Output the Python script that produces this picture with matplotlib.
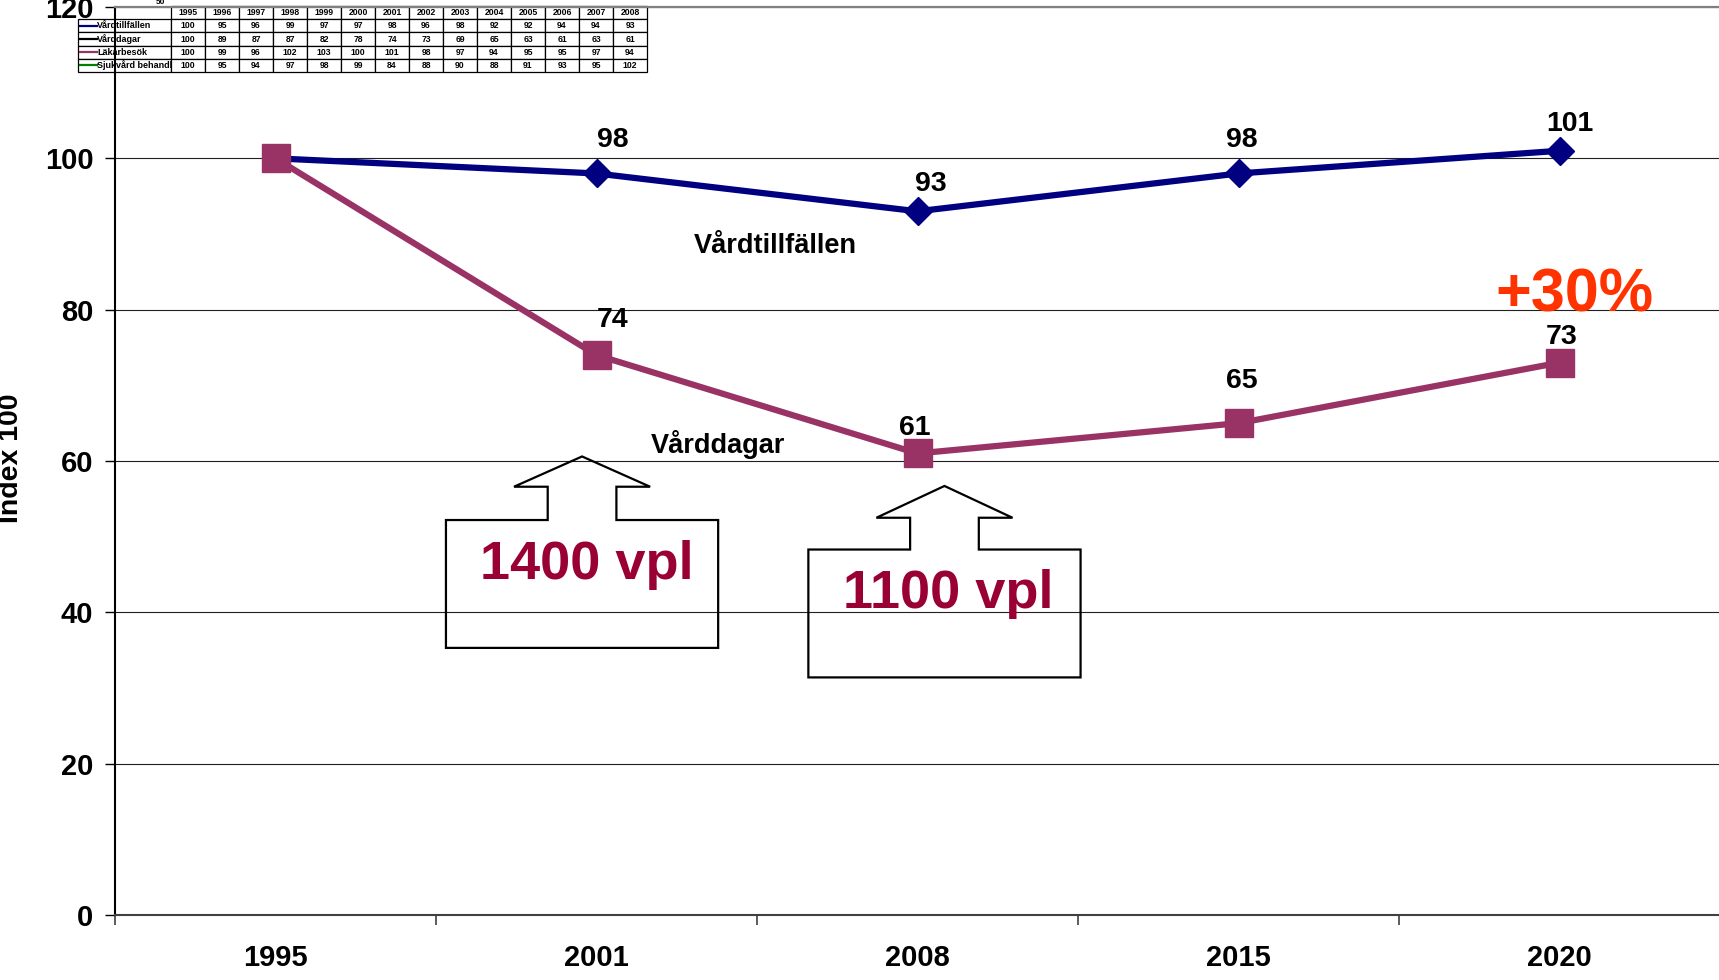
import matplotlib
matplotlib.use('Agg')
import matplotlib.pyplot as plt
from matplotlib.patches import Polygon

plt.rcParams['font.family'] = ['Liberation Sans', 'DejaVu Sans']
plt.rcParams['font.weight'] = 'bold'

# main chart data
years = ['1995', '2001', '2008', '2015', '2020']
vardtillfallen = [100, 98, 93, 98, 101]
varddagar = [100, 74, 61, 65, 73]

# pasted data table (top left)
table_years = ['1995', '1996', '1997', '1998', '1999', '2000', '2001',
               '2002', '2003', '2004', '2005', '2006', '2007', '2008']
table_names = ['Vårdtillfällen', 'Vårddagar', 'Läkarbesök', 'Sjukvård behandl']
t_vardtillfallen = [100, 95, 96, 99, 97, 97, 98, 96, 98, 92, 92, 94, 94, 93]
t_varddagar = [100, 89, 87, 87, 82, 78, 74, 73, 69, 65, 63, 61, 63, 61]
t_lakarbesok = [100, 99, 96, 102, 103, 100, 101, 98, 97, 94, 95, 95, 97, 94]
t_sjukvard = [100, 95, 94, 97, 98, 99, 84, 88, 90, 88, 91, 93, 95, 102]
table_colors = ['#000080', '#000000', '#993366', '#008000']

# label offsets in pixels (layout only)
off_vt = [None, (16, 33), (13, 27), (3, 33), (10, 27)]
off_vd = [None, (16, 35), (-3, 25), (3, 42), (2, 26)]

W, H = 1719, 980
fig = plt.figure(figsize=(W / 100, H / 100), dpi=100, facecolor='white')
ax = fig.add_axes([115 / W, 1 - 915 / H, 1605 / W, 908 / H])
ax.set_zorder(1)
ax.patch.set_alpha(0)

x = list(range(len(years)))
ax.plot(x, vardtillfallen, color='#000080', lw=4.5, marker='D', ms=14, zorder=4)
ax.plot(x, varddagar, color='#993366', lw=4.5, marker='s', ms=20, zorder=5)

for i, v in enumerate(vardtillfallen):
    if off_vt[i] is not None:
        ax.annotate(str(v), (i, v), xytext=off_vt[i], textcoords='offset pixels',
                    ha='center', va='center', fontsize=20.5, zorder=6)
for i, v in enumerate(varddagar):
    if off_vd[i] is not None:
        ax.annotate(str(v), (i, v), xytext=off_vd[i], textcoords='offset pixels',
                    ha='center', va='center', fontsize=20.5, zorder=6)

ax.text(1.556, 88.4, 'Vårdtillfällen', ha='center', va='center', fontsize=19.5)
ax.text(1.378, 62.2, 'Vårddagar', ha='center', va='center', fontsize=19.5)
ax.text(4.048, 81.8, '+30%', ha='center', va='center', fontsize=44, color='#FF3300', zorder=6)


def callout(cx, y0, y1, yh, yt, hw_box=0.424, hw_head=0.212, hw_shaft=0.107):
    verts = [(cx - hw_box, y0), (cx + hw_box, y0), (cx + hw_box, y1),
             (cx + hw_shaft, y1), (cx + hw_shaft, yh), (cx + hw_head, yh),
             (cx, yt), (cx - hw_head, yh), (cx - hw_shaft, yh),
             (cx - hw_shaft, y1), (cx - hw_box, y1)]
    ax.add_patch(Polygon(verts, closed=True, facecolor='none', edgecolor='black',
                         lw=1.6, zorder=3))


callout(0.955, 35.3, 52.2, 56.6, 60.6)
callout(2.084, 31.4, 48.3, 52.5, 56.7)
ax.text(0.969, 46.3, '1400 vpl', ha='center', va='center', fontsize=39, color='#990033')
ax.text(2.095, 42.4, '1100 vpl', ha='center', va='center', fontsize=39, color='#990033')

ax.set_xlim(-0.5, len(years) - 0.5)
ax.set_ylim(0, 120)
ax.set_yticks(range(0, 121, 20))
ax.set_xticks([i - 0.5 for i in range(len(years) + 1)])
ax.set_xticklabels([])
ax.set_xticks(x, minor=True)
ax.set_xticklabels(years, minor=True)
ax.tick_params(axis='x', which='major', direction='out', length=7.5, width=1.2, color='#404040')
ax.tick_params(axis='x', which='minor', length=0, pad=21, labelsize=21)
ax.tick_params(axis='y', direction='out', length=7.5, width=1, pad=8, labelsize=21)
ax.grid(axis='y', color='#202020', lw=0.8)
ax.set_axisbelow(True)

ax.spines['right'].set_visible(False)
ax.spines['top'].set_color('#808080')
ax.spines['top'].set_linewidth(1.6)
ax.spines['left'].set_linewidth(1.5)
ax.spines['bottom'].set_linewidth(1.5)
ax.spines['bottom'].set_color('#404040')

fig.text(11 / W, 1 - 458 / H, 'Index 100', rotation=90, ha='center', va='center', fontsize=20.5)

# table image pasted at top-left
tax = fig.add_axes([78 / W, 1 - 72 / H, 569 / W, 66 / H], zorder=0)
tax.axis('off')
rows = [t_vardtillfallen, t_varddagar, t_lakarbesok, t_sjukvard]
cell_text = [[''] + table_years] + [[''] + [str(v) for v in r] for r in rows]
col_w = [93 / 569] + [34 / 569] * len(table_years)
tbl = tax.table(cellText=cell_text, colWidths=col_w, bbox=[0, 0, 1, 1], cellLoc='center')
tbl.auto_set_font_size(False)
tbl.set_fontsize(6.2)
for (r, c), cell in tbl.get_celld().items():
    cell.set_linewidth(0.9)
    cell.get_text().set_fontweight('bold')
    if r == 0 and c == 0:
        cell.visible_edges = ''
n = len(table_names) + 1
for i, name in enumerate(table_names):
    yy = 1 - (i + 1.5) / n
    tax.plot([0.004, 0.033], [yy, yy], color=table_colors[i], lw=1.6,
             transform=tax.transAxes, clip_on=False)
    tax.text(0.034, yy, name, ha='left', va='center', fontsize=6.5, transform=tax.transAxes)
fig.text(160 / W, 1 - 2 / H, '50', ha='center', va='center', fontsize=6)

fig.savefig('out.png', dpi=100, facecolor='white')
